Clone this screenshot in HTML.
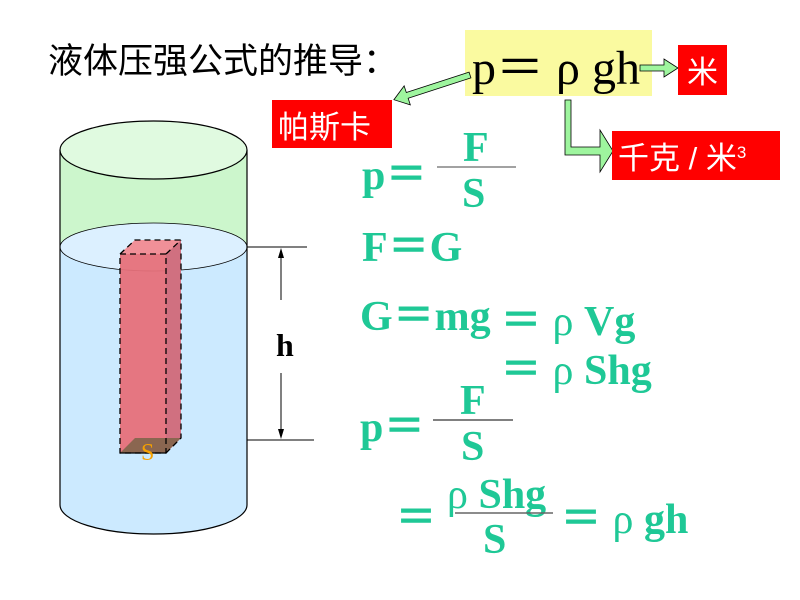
<!DOCTYPE html>
<html><head><meta charset="utf-8"><style>
html,body{margin:0;padding:0;background:#fff;}
svg{display:block}
.t{font-family:"Liberation Serif","Noto Sans CJK SC",serif;font-weight:bold;fill:#1fc896;font-size:42px}
.r{font-weight:normal}
.c{font-family:"Liberation Sans","Noto Sans CJK SC",sans-serif;fill:#fff;font-size:31px}
</style></head><body>
<svg width="800" height="600" viewBox="0 0 800 600" xmlns="http://www.w3.org/2000/svg">
<text x="48" y="73" font-family="Liberation Sans,Noto Sans CJK SC,sans-serif" font-size="35" fill="#000">液体压强公式的推导：</text>
<rect x="465" y="30" width="187" height="66" fill="#fafaa0"/>
<text x="472" y="84" font-family="Liberation Serif,Noto Sans CJK SC,serif" font-size="48" fill="#000">p＝ ρ gh</text>
<polygon points="640,65 664,65 664,59 678,68 664,77 664,71 640,71" fill="#9ef59e" stroke="#000" stroke-width="0.8"/>
<rect x="678" y="45" width="49" height="50" fill="#f00"/>
<text class="c" x="687" y="83" font-size="33">米</text>
<g transform="translate(470,75) rotate(162)">
<polygon points="0,-3 66,-3 66,-10 80,0 66,10 66,3 0,3" fill="#9ef59e" stroke="#000" stroke-width="0.8"/>
</g>
<rect x="272" y="100" width="120" height="48" fill="#f00"/>
<text class="c" x="278" y="138" font-size="35">帕斯卡</text>
<polygon points="565,100 571,100 571,147 600,147 600,130 613,151 600,172 600,155 565,155" fill="#9ef59e" stroke="#000" stroke-width="0.8"/>
<rect x="612" y="131" width="168" height="49" fill="#f00"/>
<text class="c" x="618" y="169" font-size="32">千克 / 米<tspan font-size="17" dy="-11">3</tspan></text>

<path d="M60,150 L60,505 A93.5,29 0 0 0 247,505 L247,150 Z" fill="#ccf6cc"/>
<path d="M60,247 L60,505 A93.5,29 0 0 0 247,505 L247,247 A93.5,24 0 0 0 60,247 Z" fill="#cceaff"/>
<ellipse cx="153.5" cy="247" rx="93.5" ry="24" fill="#dcf0ff" stroke="#000" stroke-width="0.8"/>
<path d="M60,150 L60,505 A93.5,29 0 0 0 247,505 L247,150" fill="none" stroke="#000" stroke-width="1.2"/>
<ellipse cx="153.5" cy="150" rx="93.5" ry="29" fill="#e0fae0" stroke="#000" stroke-width="1.2"/>
<polygon points="120,254 135,240 181,240 181,438 166,453 120,453" fill="#e6707a" fill-opacity="0.95"/>
<polygon points="166,254 181,240 181,438 166,453" fill="#d07080"/>
<polygon points="120,254 135,240 181,240 166,254" fill="#f09098"/>
<polygon points="120,453 135,438 181,438 166,453" fill="#8a6650"/>
<g fill="none" stroke="#000" stroke-width="1.3" stroke-dasharray="6,4">
<rect x="120" y="254" width="46" height="199"/>
<polyline points="120,254 135,240 181,240 181,438 166,453"/>
<line x1="166" y1="254" x2="181" y2="240"/>
</g>
<line x1="120" y1="453" x2="166" y2="453" stroke="#000" stroke-width="1.3"/>
<text x="141" y="460" font-family="Liberation Serif,serif" font-size="24" fill="#f5a000">S</text>
<line x1="247" y1="247" x2="307" y2="247" stroke="#000"/>
<line x1="247" y1="440" x2="314" y2="440" stroke="#000"/>
<line x1="281" y1="250" x2="281" y2="300" stroke="#000"/>
<line x1="281" y1="373" x2="281" y2="437" stroke="#000"/>
<polygon points="281,248 278,258 284,258" fill="#000"/>
<polygon points="281,439 278,429 284,429" fill="#000"/>
<text x="276" y="356" font-family="Liberation Serif,serif" font-weight="bold" font-size="32" fill="#000">h</text>

<text class="t" x="362" y="189">p＝</text>
<text class="t" x="463" y="161">F</text>
<line x1="437" y1="167" x2="516" y2="167" stroke="#444" stroke-width="1"/>
<text class="t" x="462" y="207">S</text>
<text class="t" x="362" y="261">F＝G</text>
<text class="t" x="360" y="330">G＝mg</text>
<text class="t" x="500" y="335">＝ <tspan class="r">ρ</tspan> Vg</text>
<text class="t" x="500" y="384">＝ <tspan class="r">ρ</tspan> Shg</text>
<text class="t" x="360" y="441">p＝</text>
<text class="t" x="460" y="414">F</text>
<line x1="433" y1="420" x2="513" y2="420" stroke="#000" stroke-width="1"/>
<text class="t" x="461" y="460">S</text>
<text class="t" x="395" y="532">＝</text>
<text class="t" x="447" y="508"><tspan class="r">ρ</tspan> Shg</text>
<line x1="455" y1="513" x2="553" y2="513" stroke="#666" stroke-width="1.5"/>
<text class="t" x="483" y="553">S</text>
<text class="t" x="560" y="533">＝ <tspan class="r">ρ</tspan> gh</text>
</svg>
</body></html>
